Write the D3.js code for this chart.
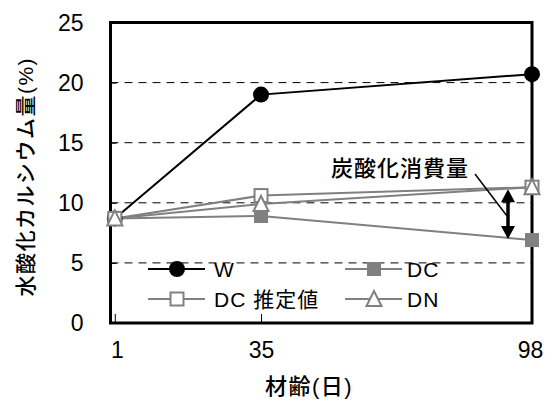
<!DOCTYPE html>
<html>
<head>
<meta charset="utf-8">
<script src="https://cdn.jsdelivr.net/npm/d3@7"></script>
<style>
  body { margin: 0; background: #fff; }
  svg text { font-family: "Liberation Sans", Arial, "Noto Sans CJK JP", sans-serif; fill: #000; }
</style>
</head>
<body>
<div id="chart"></div>
<script>
// data
var days = [1, 35, 98];
var seriesNames = ["W", "DC", "DC 推定値", "DN"];
var valW = [8.7, 19.0, 20.7];
var valDC = [8.7, 8.9, 6.9];
var valDCest = [8.7, 10.6, 11.3];
var valDN = [8.7, 9.9, 11.3];
var yTicks = [0, 5, 10, 15, 20, 25];
var xTicks = [1, 35, 98];
var yTitle = "水酸化カルシウム量(%)";
var xTitle = "材齢(日)";
var noteText = "炭酸化消費量";

var width = 551, height = 400;
var plotL = 110.5, plotR = 532, plotT = 22.5, plotB = 323;
var gray = "#808080";

var svg = d3.select("#chart").append("svg")
    .attr("width", width)
    .attr("height", height);

var x = d3.scaleLinear().domain([0, 98]).range([plotL, plotR]);
var y = d3.scaleLinear().domain([0, 25]).range([plotB, plotT]);

// dashed grid
svg.append("g").selectAll("line")
    .data(yTicks.filter(function(d) { return d > 0 && d < 25; }))
    .enter().append("line")
    .attr("x1", plotL).attr("x2", plotR)
    .attr("y1", function(d) { return y(d); })
    .attr("y2", function(d) { return y(d); })
    .attr("stroke", "#000")
    .attr("stroke-width", 1)
    .attr("stroke-dasharray", "8,6");

// y axis: labels only, ticks inward
var yAxis = d3.axisLeft(y).tickValues(yTicks).tickSize(-6).tickPadding(27)
    .tickFormat(function(d) { return d; });
var gy = svg.append("g").attr("transform", "translate(" + plotL + ",0)").call(yAxis);
gy.select(".domain").remove();
gy.selectAll("line").attr("stroke", "#000");
gy.selectAll("text").style("font-size", "23px").attr("dy", "0.33em");

var xAxis = d3.axisBottom(x).tickValues(xTicks).tickSize(-9).tickPadding(19)
    .tickFormat(function(d) { return d; });
var gx = svg.append("g").attr("transform", "translate(0," + plotB + ")").call(xAxis);
gx.select(".domain").remove();
gx.selectAll("line").attr("stroke", "#000");
gx.selectAll("text").style("font-size", "23px").attr("dy", "0.71em");
gx.selectAll(".tick text").attr("dx", function(d) { return d == 1 ? 2 : (d == 98 ? -2 : 0); });

// frame
svg.append("rect")
    .attr("x", plotL).attr("y", plotT)
    .attr("width", plotR - plotL).attr("height", plotB - plotT)
    .attr("fill", "none")
    .attr("stroke", "#000")
    .attr("stroke-width", 3);

// titles
svg.append("text")
    .attr("transform", "translate(33," + ((plotT + plotB) / 2 + 4) + ") rotate(-90)")
    .attr("text-anchor", "middle")
    .style("font-size", "21px")
    .style("font-weight", "500")
    .style("letter-spacing", "1.5px")
    .text(yTitle);

svg.append("text")
    .attr("x", 309).attr("y", 394)
    .attr("text-anchor", "middle")
    .style("font-size", "22px")
    .style("font-weight", "500")
    .style("letter-spacing", "1.5px")
    .text(xTitle);

var line = d3.line()
    .x(function(d, i) { return x(days[i]); })
    .y(function(d) { return y(d); });

function marker(sel, type) {
  if (type == "circle") {
    sel.append("circle").attr("r", 8).attr("fill", "#000");
  } else if (type == "fsquare") {
    sel.append("rect").attr("x", -7).attr("y", -7).attr("width", 14).attr("height", 14)
       .attr("fill", gray);
  } else if (type == "osquare") {
    sel.append("rect").attr("x", -6.5).attr("y", -6.5).attr("width", 13).attr("height", 13)
       .attr("fill", "#fff").attr("stroke", gray).attr("stroke-width", 2);
  } else {
    sel.append("path").attr("d", "M0,-8L7.5,7L-7.5,7Z")
       .attr("fill", "#fff").attr("stroke", gray).attr("stroke-width", 2);
  }
}

var series = [
  { vals: valDC, color: gray, m: "fsquare" },
  { vals: valW, color: "#000", m: "circle" },
  { vals: valDCest, color: gray, m: "osquare" },
  { vals: valDN, color: gray, m: "triangle" }
];

series.forEach(function(s) {
  svg.append("path")
      .datum(s.vals)
      .attr("d", line)
      .attr("fill", "none")
      .attr("stroke", s.color)
      .attr("stroke-width", 2);
});
series.forEach(function(s) {
  svg.append("g").selectAll("g")
      .data(s.vals)
      .enter().append("g")
      .attr("transform", function(d, i) { return "translate(" + x(days[i]) + "," + y(d) + ")"; })
      .each(function() { marker(d3.select(this), s.m); });
});

// annotation: double arrow between DN and DC at day 98
var ax = x(98) - 24;
var yTopA = y(valDN[2]) + 2, yBotA = y(valDC[2]) - 1;
svg.append("line")
    .attr("x1", ax).attr("x2", ax)
    .attr("y1", yTopA + 10).attr("y2", yBotA - 10)
    .attr("stroke", "#000").attr("stroke-width", 3.5);
svg.append("path")
    .attr("d", "M" + ax + "," + yTopA + "L" + (ax + 7) + "," + (yTopA + 13) + "L" + (ax - 7) + "," + (yTopA + 13) + "Z")
    .attr("fill", "#000");
svg.append("path")
    .attr("d", "M" + ax + "," + yBotA + "L" + (ax + 7) + "," + (yBotA - 13) + "L" + (ax - 7) + "," + (yBotA - 13) + "Z")
    .attr("fill", "#000");

svg.append("line")
    .attr("x1", 475).attr("y1", 174)
    .attr("x2", ax - 1).attr("y2", 216)
    .attr("stroke", "#000").attr("stroke-width", 1.5);

svg.append("text")
    .attr("x", 331).attr("y", 176)
    .style("font-size", "22px")
    .style("font-weight", "500")
    .style("letter-spacing", "1px")
    .text(noteText);

// legend
var legendPos = [[148, 269], [345, 269], [148, 299], [345, 299]];
var legendOrder = [1, 0, 2, 3];
legendOrder.forEach(function(si, k) {
  var s = series[si];
  var p = legendPos[k];
  var name = seriesNames[k];
  var g = svg.append("g").attr("transform", "translate(" + p[0] + "," + p[1] + ")");
  g.append("line").attr("x1", 0).attr("x2", 57).attr("y1", 0).attr("y2", 0)
      .attr("stroke", s.color).attr("stroke-width", 2);
  var mg = g.append("g").attr("transform", "translate(29,0)");
  marker(mg, s.m);
  g.append("text")
      .attr("x", k % 2 == 0 ? 66 : 62).attr("y", 0).attr("dy", "0.36em")
      .style("font-size", "21px")
      .style("letter-spacing", "1px")
      .text(name);
});
</script>
</body>
</html>
